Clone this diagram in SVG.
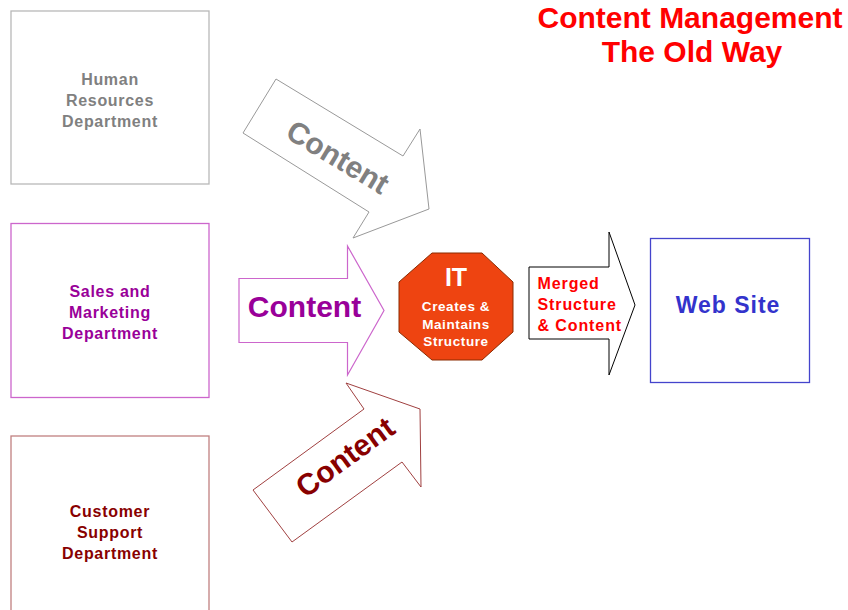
<svg xmlns="http://www.w3.org/2000/svg" width="848" height="610" viewBox="0 0 848 610">
<style>
text{font-family:"Liberation Sans",Arial,sans-serif;font-weight:bold;text-anchor:middle}
.dept{font-size:16px;letter-spacing:0.7px}
.box{fill:#fff;stroke-width:1.3}
.arrowtxt{font-size:30px}
.merged{font-size:16px;letter-spacing:0.9px;fill:#ff0000;text-anchor:start}
.itsub{font-size:13.5px;letter-spacing:0.6px;fill:#fff}
</style>
<rect width="848" height="610" fill="#fff"/>
<g id="title">
<text x="690" y="28" font-size="30" fill="#ff0000">Content Management</text>
<text x="692" y="62" font-size="30" fill="#ff0000">The Old Way</text>
</g>
<g id="hr">
<rect class="box" x="11" y="11" width="198" height="173" stroke="#b8b8b8"/>
<text class="dept" x="110" y="85" fill="#808080">Human</text>
<text class="dept" x="110" y="106" fill="#808080">Resources</text>
<text class="dept" x="110" y="127" fill="#808080">Department</text>
</g>
<g id="sales">
<rect class="box" x="11" y="223.5" width="198" height="174" stroke="#cc66cc"/>
<text class="dept" x="110" y="297" fill="#990099">Sales and</text>
<text class="dept" x="110" y="318" fill="#990099">Marketing</text>
<text class="dept" x="110" y="338.5" fill="#990099">Department</text>
</g>
<g id="support">
<rect class="box" x="11" y="436" width="198" height="180" stroke="#c08080"/>
<text class="dept" x="110" y="517" fill="#880000">Customer</text>
<text class="dept" x="110" y="538" fill="#880000">Support</text>
<text class="dept" x="110" y="558.5" fill="#880000">Department</text>
</g>
<g id="connectors">
<g id="arrow-hr">
<polygon points="276,79 243,133 369,212 353,238 429,209 420,129 403,156" fill="#fff" stroke="#999" stroke-width="1"/>
<text class="arrowtxt" transform="translate(338,157) rotate(31)" y="10.5" fill="#808080">Content</text>
</g>
<g id="arrow-sales">
<polygon points="239,278.5 347.5,278.5 347.5,246 384,310.5 347.5,375 347.5,342.5 239,342.5" fill="#fff" stroke="#cc66cc" stroke-width="1.2"/>
<text class="arrowtxt" x="304.5" y="316.5" fill="#990099">Content</text>
</g>
<g id="arrow-support">
<polygon points="346,383 364,409 253,490 292,542 402,462 421,487 420,409" fill="#fff" stroke="#a04040" stroke-width="1"/>
<text class="arrowtxt" transform="translate(345,457) rotate(-36)" y="10.5" fill="#880000">Content</text>
</g>
<g id="arrow-merged">
<polygon points="529,267 609,267 609,232 635,305 609,375 609,339 529,339" fill="#fff" stroke="#000" stroke-width="1"/>
<text class="merged" x="537.5" y="289">Merged</text>
<text class="merged" x="537.5" y="310">Structure</text>
<text class="merged" x="537.5" y="331">&amp; Content</text>
</g>
</g>
<g id="it">
<polygon points="432,253 482,253 513,282 513,332 482,360 432,360 399,332 399,282" fill="#ee4411" stroke="#8a2a00" stroke-width="1"/>
<text x="456" y="286" font-size="25" fill="#fff">IT</text>
<text class="itsub" x="456" y="311">Creates &amp;</text>
<text class="itsub" x="456" y="328.5">Maintains</text>
<text class="itsub" x="456" y="346">Structure</text>
</g>
<g id="website">
<rect x="650.5" y="238.5" width="159" height="144" fill="#fff" stroke="#4444cc" stroke-width="1.3"/>
<text x="728" y="312.5" font-size="23" letter-spacing="1" fill="#3333cc">Web Site</text>
</g>
</svg>
